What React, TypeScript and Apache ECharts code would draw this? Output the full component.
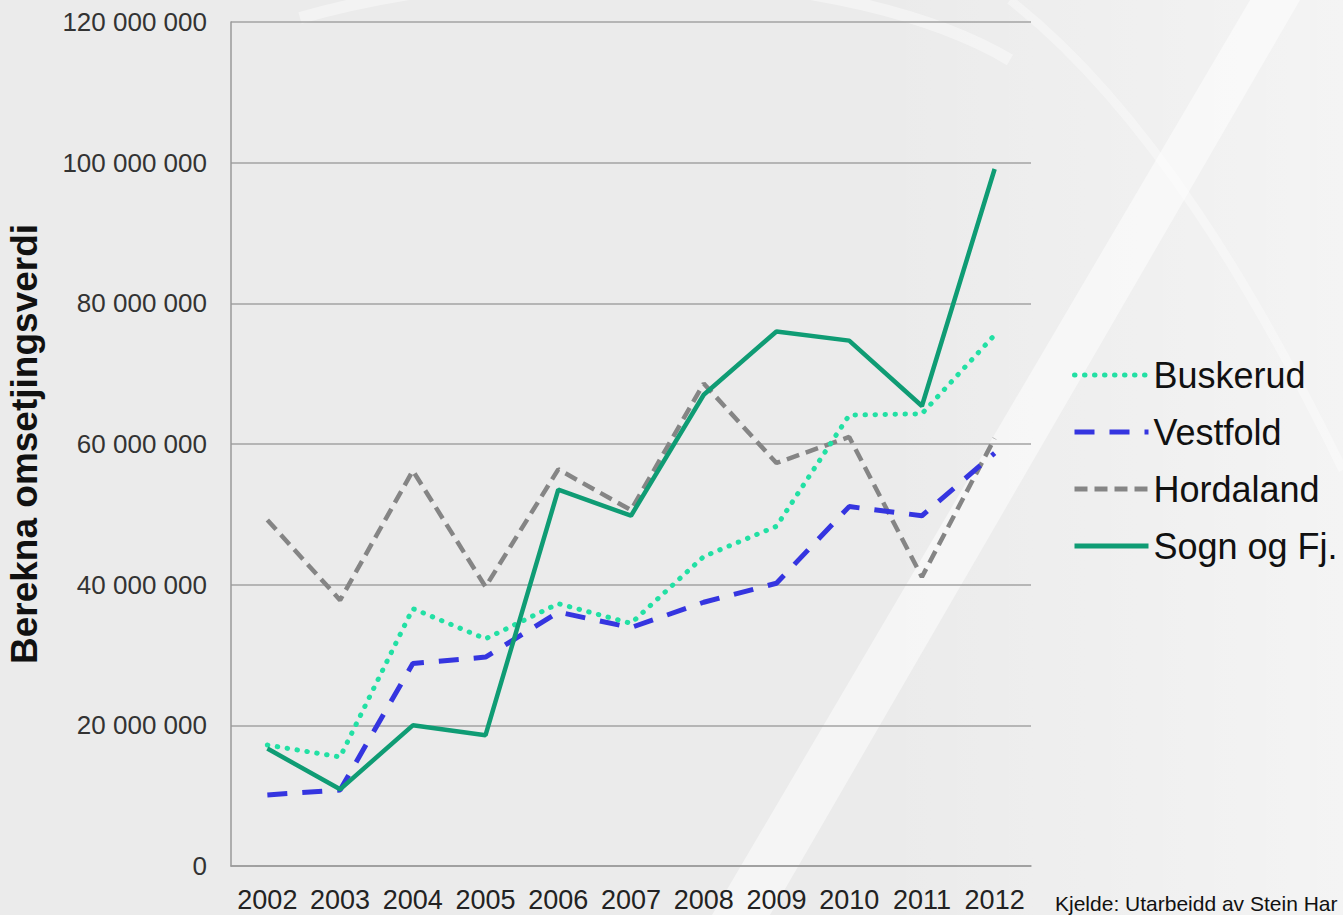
import React, { useEffect, useRef } from "react";
import * as echarts from "echarts";

const years = ["2002", "2003", "2004", "2005", "2006", "2007", "2008", "2009", "2010", "2011", "2012"];
const buskerud = [17.2, 15.5, 36.6, 32.3, 37.3, 34.5, 44.0, 48.3, 64.1, 64.3, 75.5];
const vestfold = [10.1, 10.8, 28.8, 29.7, 36.1, 33.9, 37.5, 40.2, 51.1, 49.8, 58.7];
const hordaland = [49.2, 37.8, 56.2, 39.7, 56.4, 50.6, 68.6, 57.3, 61.0, 41.1, 60.8];
const sogn = [16.7, 10.9, 20.0, 18.6, 53.5, 49.8, 67.0, 76.0, 74.7, 65.4, 99.1];
const seriesNames = ["Buskerud", "Vestfold", "Hordaland", "Sogn og Fj."];
const yMax = 120000000;
const yStep = 20000000;
const yTitle = "Berekna omsetjingsverdi";
const sourceText = "Kjelde: Utarbeidd av Stein Har";

const FONT = "'Liberation Sans', Arial, sans-serif";
const toNok = (arr: number[]) => arr.map((v) => Math.round(v * 1000000));
const fmt = (v: number) => String(v).replace(/\B(?=(\d{3})+(?!\d))/g, " ");

export default function App() {
  const ref = useRef<HTMLDivElement>(null);
  useEffect(() => {
    if (!ref.current) return;
    const chart = echarts.init(ref.current, undefined, { renderer: "svg" });
    const glow = {
      type: "rect", silent: true, z: -12,
      shape: { x: 880, y: 0, width: 463, height: 915 },
      style: { fill: new echarts.graphic.LinearGradient(0, 0, 1, 0, [{ offset: 0, color: "rgba(255,255,255,0)" }, { offset: 1, color: "rgba(255,255,255,0.45)" }]) },
    };
    const band = { type: "polygon", silent: true, z: -10, shape: { points: [[712, 915], [770, 915], [1300, 0], [1250, 0]] }, style: { fill: "rgba(255,255,255,0.5)" } };
    const arc1 = { type: "bezierCurve", silent: true, z: -10, shape: { x1: 300, y1: 18, x2: 1010, y2: 60, cpx1: 520, cpy1: -45, cpx2: 850, cpy2: -35 }, style: { stroke: "rgba(255,255,255,0.4)", lineWidth: 12, fill: null } };
    const arc2 = { type: "bezierCurve", silent: true, z: -10, shape: { x1: 1010, y1: 0, x2: 1343, y2: 470, cpx1: 1150, cpy1: 110, cpx2: 1260, cpy2: 300 }, style: { stroke: "rgba(255,255,255,0.35)", lineWidth: 9, fill: null } };
    chart.setOption({
      animation: false,
      backgroundColor: "#ebebeb",
      textStyle: { fontFamily: FONT },
      grid: { left: 231, top: 22, right: 312, bottom: 49, containLabel: false, outerBoundsMode: "none" },
      xAxis: {
        type: "category",
        data: years,
        boundaryGap: true,
        axisLine: { show: true, lineStyle: { color: "#9a9a9a", width: 1.5 } },
        axisTick: { show: false },
        axisLabel: { color: "#222", fontSize: 27, margin: 20, fontFamily: FONT, interval: 0 },
      },
      yAxis: {
        type: "value",
        min: 0,
        max: yMax,
        interval: yStep,
        name: yTitle,
        nameLocation: "middle",
        nameRotate: 90,
        nameGap: 188,
        nameTextStyle: { fontSize: 37, fontWeight: "bold", color: "#111", fontFamily: FONT },
        axisLine: { show: true, lineStyle: { color: "#9a9a9a", width: 1.5 } },
        axisTick: { show: false },
        splitLine: { show: true, lineStyle: { color: "#a3a3a3", width: 1.5 } },
        axisLabel: { color: "#333", fontSize: 26, margin: 24, fontFamily: FONT, formatter: (v: number) => fmt(v) },
      },
      legend: {
        orient: "vertical",
        left: 1072,
        top: 355,
        padding: 0,
        itemWidth: 74,
        itemHeight: 14,
        itemGap: 17,
        data: seriesNames,
        itemStyle: { opacity: 0 },
        lineStyle: { width: 5 },
        textStyle: { fontSize: 36, color: "#111", fontFamily: FONT, lineHeight: 40 },
      },
      series: [
        { name: seriesNames[0], type: "line", data: toNok(buskerud), symbol: "none", color: "#22e0a4", lineStyle: { color: "#22e0a4", width: 5, type: [0.5, 9.5], cap: "round" }, z: 4 },
        { name: seriesNames[1], type: "line", data: toNok(vestfold), symbol: "none", color: "#3535e0", lineStyle: { color: "#3535e0", width: 5, type: [20, 15] }, z: 3 },
        { name: seriesNames[2], type: "line", data: toNok(hordaland), symbol: "none", color: "#858585", lineStyle: { color: "#858585", width: 4.5, type: [13, 7] }, z: 2 },
        { name: seriesNames[3], type: "line", data: toNok(sogn), symbol: "none", color: "#0f9c74", lineStyle: { color: "#0f9c74", width: 4.5 }, z: 5 },
      ],
      graphic: [
        glow,
        band,
        arc1,
        arc2,
        { type: "text", x: 1055, y: 914, style: { text: sourceText, fontSize: 21, fill: "#111", fontFamily: FONT, verticalAlign: "bottom", align: "left" } },
      ],
    });
    return () => chart.dispose();
  }, []);
  return <div ref={ref} style={{ position: "fixed", left: 0, top: 0, width: 1343, height: 915 }} />;
}
